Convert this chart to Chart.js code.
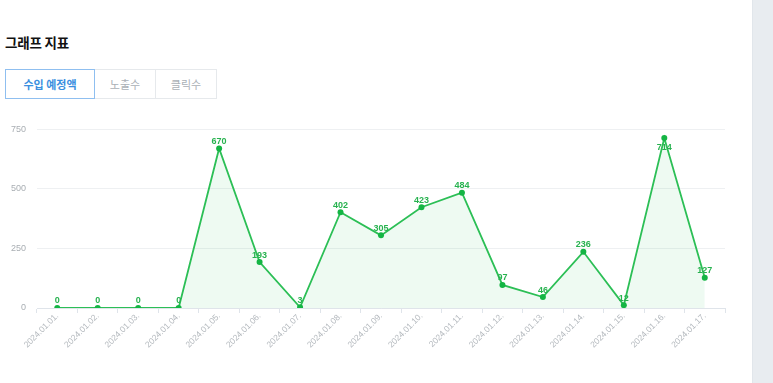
<!DOCTYPE html>
<html>
<head>
<meta charset="utf-8">
<script src="https://cdn.jsdelivr.net/npm/chart.js@4.4.1/dist/chart.umd.min.js"></script>
<style>
  html, body { margin: 0; padding: 0; background: #fff; width: 773px; height: 383px; overflow: hidden; }
  body { position: relative; font-family: "Noto Sans CJK KR", "Noto Sans", sans-serif; }
  .side { position: absolute; left: 752px; top: 0; width: 21px; height: 383px; background: #e8ecf0; border-left: 1px solid #e1e6eb; }
  .title { position: absolute; left: 5px; top: 32px; font-size: 13.5px; font-weight: 700; color: #111; letter-spacing: -0.2px; }
  .tabs { position: absolute; left: 5px; top: 69px; display: flex; }
  .tab { height: 28px; line-height: 28px; font-size: 11px; text-align: center; color: #aab0b6;
         border: 1px solid #e6e9ec; box-sizing: content-box; }
  .tab + .tab { border-left: none; }
  .tab.on { color: #3b8fe0; font-weight: 700; border: 1px solid #8fbff0; }
  .wrap { position: absolute; left: 0; top: 113px; width: 730px; height: 270px; }
</style>
</head>
<body>
<div class="title">그래프 지표</div>
<div class="tabs">
  <div class="tab on" style="width:88px">수입 예정액</div>
  <div class="tab" style="width:60px">노출수</div>
  <div class="tab" style="width:60px">클릭수</div>
</div>
<div class="side"></div>
<div class="wrap"><canvas id="chart"></canvas></div>
<script>
  const dates = ["2024.01.01.", "2024.01.02.", "2024.01.03.", "2024.01.04.", "2024.01.05.", "2024.01.06.",
    "2024.01.07.", "2024.01.08.", "2024.01.09.", "2024.01.10.", "2024.01.11.", "2024.01.12.",
    "2024.01.13.", "2024.01.14.", "2024.01.15.", "2024.01.16.", "2024.01.17."];
  const revenue = [0, 0, 0, 0, 670, 193, 3, 402, 305, 423, 484, 97, 46, 236, 12, 714, 127];
  const yTicks = [0, 250, 500, 750];

  const GREEN = "#2cbf56";
  const AXIS = "#dfe4ea";

  const valueLabels = {
    id: "valueLabels",
    afterDatasetsDraw(chart) {
      const ctx = chart.ctx;
      const area = chart.chartArea;
      const meta = chart.getDatasetMeta(0);
      ctx.save();
      ctx.font = "bold 9px 'Liberation Sans', Arial, sans-serif";
      ctx.fillStyle = "#27b24f";
      ctx.textAlign = "center";
      ctx.textBaseline = "middle";
      meta.data.forEach((pt, i) => {
        let y = pt.y - 7;
        if (y - 4 < area.top) y = pt.y + 10;
        ctx.fillText(String(revenue[i]), pt.x, y);
      });
      ctx.restore();
    }
  };

  new Chart(document.getElementById("chart"), {
    type: "line",
    data: {
      labels: dates,
      datasets: [{
        data: revenue,
        borderColor: GREEN,
        borderWidth: 1.8,
        backgroundColor: "rgba(44,191,86,0.08)",
        fill: "origin",
        tension: 0,
        pointRadius: 3,
        pointBackgroundColor: "#14b544",
        pointBorderColor: "#14b544",
        pointBorderWidth: 0
      }]
    },
    options: {
      responsive: true,
      maintainAspectRatio: false,
      animation: false,
      layout: { padding: { top: 2, right: 5, left: 0, bottom: 0 } },
      plugins: { legend: { display: false }, tooltip: { enabled: false } },
      scales: {
        x: {
          offset: true,
          grid: { offset: true, drawOnChartArea: false, drawTicks: true, tickLength: 5, color: AXIS },
          border: { color: AXIS },
          ticks: {
            color: "#b3b8bd",
            font: { size: 8.5, family: "'Liberation Sans', Arial, sans-serif" },
            minRotation: 45,
            maxRotation: 45,
            autoSkip: false,
            padding: -2
          },
          afterFit(scale) { scale.height = 75; }
        },
        y: {
          min: 0,
          max: 750,
          afterBuildTicks(scale) { scale.ticks = yTicks.map(v => ({ value: v })); },
          grid: { color: "#eef0f2", drawTicks: false },
          border: { display: false },
          ticks: {
            color: "#a9aeb3",
            font: { size: 9, family: "'Liberation Sans', Arial, sans-serif" },
            padding: 11
          },
          afterFit(scale) { scale.width = 37; }
        }
      }
    },
    plugins: [valueLabels]
  });
</script>
</body>
</html>
